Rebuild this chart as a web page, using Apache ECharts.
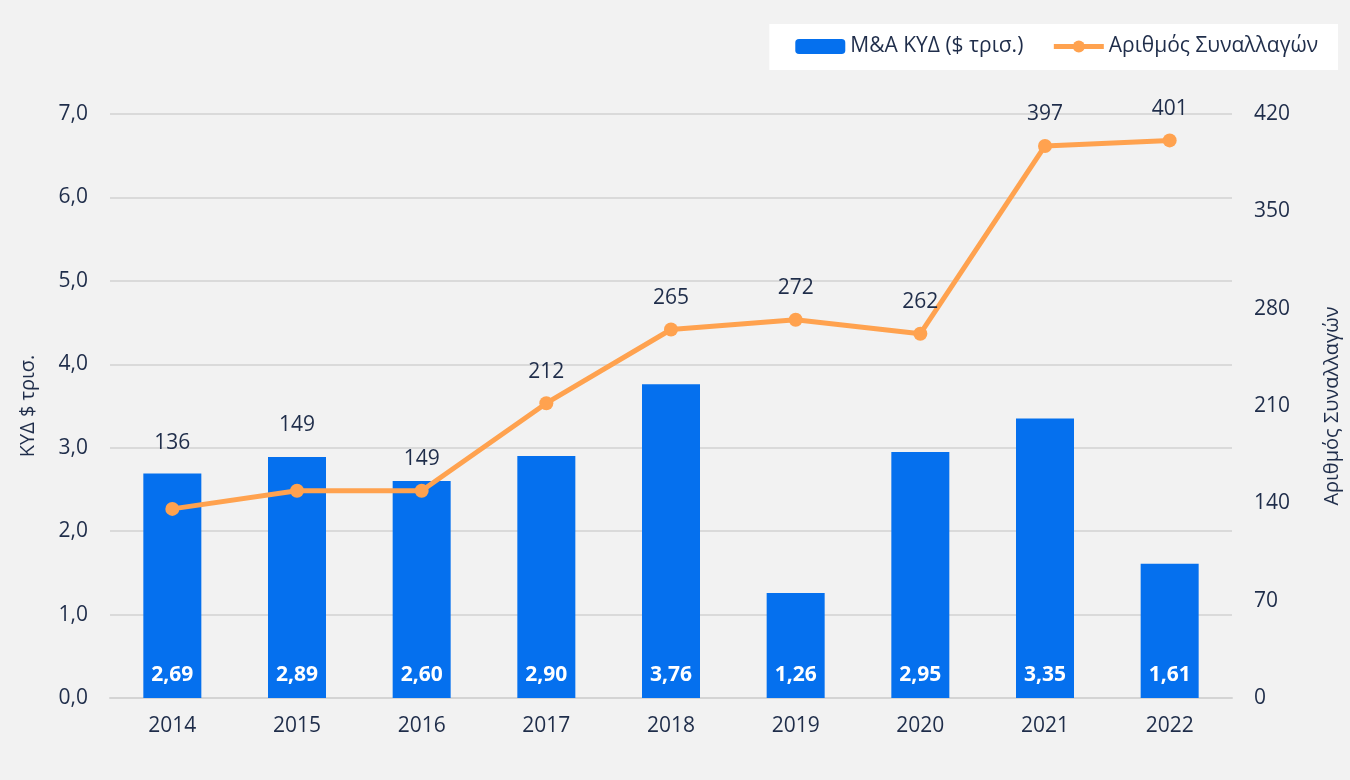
<!DOCTYPE html>
<html>
<head>
<meta charset="utf-8">
<script src="https://cdn.jsdelivr.net/npm/echarts@6/dist/echarts.min.js"></script>
<style>
  html, body { margin: 0; padding: 0; background: #f2f2f2; }
  #chart { width: 1350px; height: 780px; }
</style>
</head>
<body>
<div id="chart"></div>
<script>
// data
var years = ['2014', '2015', '2016', '2017', '2018', '2019', '2020', '2021', '2022']
var maValue = [2.69, 2.89, 2.60, 2.90, 3.76, 1.26, 2.95, 3.35, 1.61]
var dealCount = [136, 149, 149, 212, 265, 272, 262, 397, 401]

var textColor = '#1f2d4a'
var fontFamily = '"Open Sans", "Noto Sans", sans-serif'

function comma (v, d) {
  return Number(v).toFixed(d).replace('.', ',')
}

// first two line labels sit above the bars in the original
var lineData = dealCount.map(function (v, i) {
  if (i < 2) {
    return { value: v, label: { distance: 48 } }
  }
  return v
})

var chart = echarts.init(document.getElementById('chart'))
var option = {
  backgroundColor: '#f2f2f2',
  textStyle: { fontFamily: fontFamily, color: textColor },
  legend: {
    right: 12,
    top: 24,
    padding: [12, 20, 13, 26],
    backgroundColor: '#ffffff',
    itemWidth: 50,
    itemHeight: 15,
    itemGap: 28,
    textStyle: { fontSize: 21, color: textColor, fontFamily: fontFamily },
    data: [
      { name: 'M&A ΚΥΔ ($ τρισ.)' },
      { name: 'Αριθμός Συναλλαγών', lineStyle: { width: 5 } }
    ]
  },
  grid: {
    left: 110,
    right: 115,
    top: 114,
    bottom: 82
  },
  xAxis: {
    type: 'category',
    data: years,
    axisTick: { show: false },
    axisLine: { lineStyle: { color: '#d4d4d4', width: 2 } },
    axisLabel: { fontSize: 21, color: textColor, margin: 18 }
  },
  yAxis: [
    {
      type: 'value',
      min: 0,
      max: 7,
      interval: 1,
      name: 'ΚΥΔ $ τρισ.',
      nameLocation: 'middle',
      nameGap: 72,
      nameTextStyle: { fontSize: 20, color: textColor },
      axisLabel: {
        fontSize: 21,
        color: textColor,
        margin: 22,
        formatter: function (v) { return comma(v, 1) }
      },
      splitLine: { lineStyle: { color: '#dadada', width: 2 } }
    },
    {
      type: 'value',
      min: 0,
      max: 420,
      interval: 70,
      name: 'Αριθμός Συναλλαγών',
      nameLocation: 'middle',
      nameRotate: 90,
      nameGap: 90,
      nameTextStyle: { fontSize: 20, color: textColor },
      axisLabel: { fontSize: 21, color: textColor, margin: 22 },
      splitLine: { show: false }
    }
  ],
  series: [
    {
      name: 'M&A ΚΥΔ ($ τρισ.)',
      type: 'bar',
      data: maValue,
      barWidth: 58,
      itemStyle: { color: '#0570ee' },
      label: {
        show: true,
        position: 'insideBottom',
        distance: 12,
        color: '#ffffff',
        fontWeight: 'bold',
        fontSize: 21,
        formatter: function (p) { return comma(p.value, 2) }
      }
    },
    {
      name: 'Αριθμός Συναλλαγών',
      type: 'line',
      yAxisIndex: 1,
      data: lineData,
      symbol: 'circle',
      symbolSize: 14,
      lineStyle: { color: '#ffa24f', width: 5 },
      itemStyle: { color: '#ffa24f' },
      label: {
        show: true,
        position: 'top',
        distance: 14,
        fontSize: 21,
        color: textColor
      }
    }
  ]
}
chart.setOption(option)
</script>
</body>
</html>
